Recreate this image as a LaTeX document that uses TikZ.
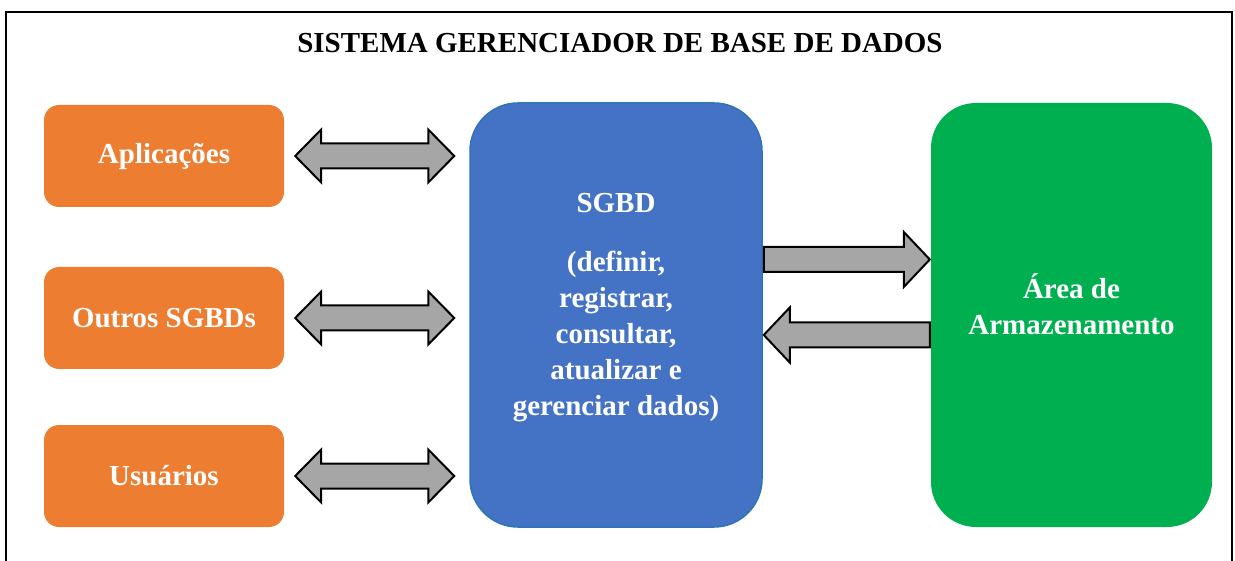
\documentclass[tikz,border=0pt]{standalone}
\usepackage{fontspec}
\setmainfont{Liberation Serif}
\usepackage{xcolor}
\usepackage{tikz}
\usetikzlibrary{positioning, calc}
\definecolor{apporange}{RGB}{237, 125, 49}
\definecolor{sgbdblue}{RGB}{68, 114, 196}
\definecolor{sgbdedge}{RGB}{46, 117, 182}
\definecolor{storegreen}{RGB}{0, 176, 80}
\definecolor{arrowgray}{RGB}{166, 166, 166}
% block arrow with two heads, from left tip to right tip
\newcommand{\dblarrow}[2]{\draw[blockarrow] let \p1=(#1), \p2=(#2) in
  (\x1,\y1) -- (\x1+26pt,\y1+26.5pt) -- (\x1+26pt,\y1+12.5pt) -- (\x2-26pt,\y1+12.5pt)
  -- (\x2-26pt,\y1+26.5pt) -- (\x2,\y1) -- (\x2-26pt,\y1-26.5pt) -- (\x2-26pt,\y1-12.5pt)
  -- (\x1+26pt,\y1-12.5pt) -- (\x1+26pt,\y1-26.5pt) -- cycle;}
% block arrow with one head, from tail to tip
\newcommand{\onearrow}[2]{\draw[blockarrow] let \p1=(#1), \p2=(#2), \n1={sign(\x2-\x1)} in
  (\x1,\y1+12.5pt) -- (\x2-\n1*26pt,\y1+12.5pt) -- (\x2-\n1*26pt,\y1+27.5pt) -- (\x2,\y1)
  -- (\x2-\n1*26pt,\y1-27.5pt) -- (\x2-\n1*26pt,\y1-12.5pt) -- (\x1,\y1-12.5pt) -- cycle;}

\begin{document}
\begin{tikzpicture}[x=1pt, y=-1pt,
  sidebox/.style={rectangle, rounded corners=15pt, fill=apporange, text=white,
    font=\fontsize{29}{36}\selectfont\bfseries, minimum width=240pt, minimum height=102pt},
  corebox/.style={rectangle, rounded corners=48pt, fill=sgbdblue, draw=sgbdedge, line width=1.5pt,
    text=white, align=center, font=\fontsize{29}{36}\selectfont\bfseries,
    minimum width=292pt, minimum height=424pt},
  storebox/.style={rectangle, rounded corners=45pt, fill=storegreen, text=white, align=center,
    font=\fontsize{29}{36}\selectfont\bfseries, minimum width=281pt, minimum height=424pt},
  blockarrow/.style={fill=arrowgray, draw=black, line width=2pt, line join=miter},
  titletext/.style={font=\fontsize{29}{36}\selectfont\bfseries},
]
\useasboundingbox (0,0) rectangle (1235,561);

% outer frame (runs past the bottom edge)
\draw[line width=2pt] (6,580) -- (6,12) -- (1232,12) -- (1232,580);
\node[titletext] (title) at (620,43) {SISTEMA GERENCIADOR DE BASE DE DADOS};

% ==================== left column ====================
\node[sidebox] (apl) at (164,156) {Aplicações};
\node[sidebox] (outros) at (164,318) {Outros SGBDs};
\node[sidebox] (usu) at (164,476) {Usuários};

% ==================== SGBD ====================
\node[corebox] (sgbd) at (616,315) {SGBD\\[23pt] (definir,\\ registrar,\\ consultar,\\ atualizar e\\ gerenciar dados)\\[-14pt]};

% ==================== storage ====================
\node[storebox] (area) at (1071.5,315) {Área de\\ Armazenamento\\[-14pt]};

% arrows between the boxes
\coordinate (a1) at ($(apl.east)+(11,0)$);
\coordinate (b1) at ($(sgbd.west |- apl.east)+(-15,0)$);
\coordinate (a2) at ($(outros.east)+(11,0)$);
\coordinate (b2) at ($(sgbd.west |- outros.east)+(-15,0)$);
\coordinate (a3) at ($(usu.east)+(11,0)$);
\coordinate (b3) at ($(sgbd.west |- usu.east)+(-15,0)$);
\dblarrow{a1}{b1}
\dblarrow{a2}{b2}
\dblarrow{a3}{b3}

\coordinate (s1) at ($(sgbd.east)+(1,-55.5)$);
\coordinate (t1) at ($(area.west)+(-1,-55.5)$);
\coordinate (s2) at ($(area.west)+(-1,20)$);
\coordinate (t2) at ($(sgbd.east)+(1,20)$);
\onearrow{s1}{t1}
\onearrow{s2}{t2}

\end{tikzpicture}
\end{document}
